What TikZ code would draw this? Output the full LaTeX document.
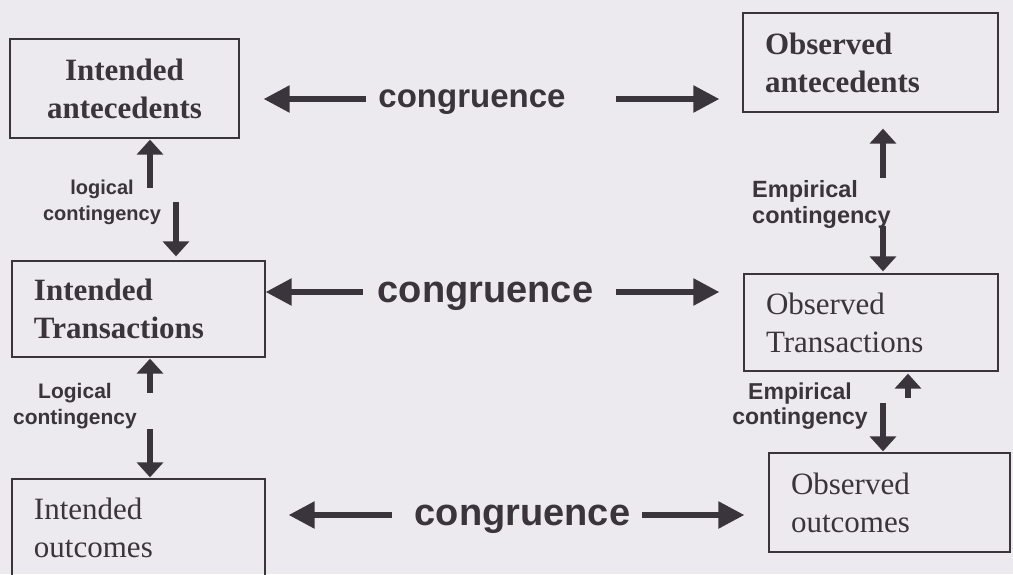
\documentclass[tikz,border=0pt]{standalone}
\usepackage{fontspec}
\setmainfont{Liberation Serif}
\setsansfont{Liberation Sans}
\usetikzlibrary{arrows.meta,calc}
\definecolor{bg}{RGB}{236,234,238}
\definecolor{ink}{RGB}{58,52,60}
\begin{document}
\begin{tikzpicture}[x=1pt,y=-1pt,
  box/.style={draw=ink, line width=1.3pt, text=ink, inner xsep=22pt, inner ysep=0pt,
    font=\fontsize{31}{38}\selectfont},
  bbox/.style={box, font=\fontsize{31}{38}\selectfont\bfseries},
  cong/.style={text=ink, inner sep=0pt, font=\sffamily\bfseries\fontsize{38}{40}\selectfont},
  lab/.style={text=ink, inner sep=0pt, align=center},
  harr/.style={draw=ink, line width=5.5pt, -{Triangle[length=26,width=26]}},
  varr/.style={draw=ink, line width=5.5pt, -{Triangle[length=15,width=26]}}]
\fill[bg] (0,0) rectangle (1013,574);
\useasboundingbox (0,0) rectangle (1013,574);
\begin{scope}
\clip (0,0) rectangle (1013,574);
% boxes
\node[bbox, text width=185, align=center, minimum height=99] (b1) at (124.5,88.5) {Intended\\antecedents};
\node[bbox, text width=211, align=left, minimum height=99] (b2) at (870.5,62.5) {Observed\\antecedents};
\node[bbox, text width=209, align=left, minimum height=96] (b3) at (138.5,309) {Intended\\Transactions};
\node[box, text width=210, align=left, minimum height=97] (b4) at (871,322.5) {Observed\\Transactions};
\node[box, text width=209, align=left, minimum height=98] (b5) at (138.5,528) {Intended\\outcomes};
\node[box, text width=197, align=left, minimum height=99] (b6) at (889.5,502.5) {Observed\\outcomes};
% congruence labels
\node[cong, font=\sffamily\bfseries\fontsize{33}{36}\selectfont] (c1) at (472,102) {congruence};
\node[cong] (c2) at (485.5,296) {congruence};
\node[cong] (c3) at (522.5,519) {congruence};
% congruence arrows
\draw[harr] ($(c1.west)+(-12,-3)$) -- ($(b1.east |- c1.west)+(24,-3)$);
\draw[harr] ($(c1.east)+(50,-3)$) -- ($(b2.west |- c1.east)+(-23,-3)$);
\draw[harr] ($(c2.west)+(-15,-4)$) -- ($(b3.east |- c2.west)+(0,-4)$);
\draw[harr] ($(c2.east)+(23,-4)$) -- ($(b4.west |- c2.east)+(-24,-4)$);
\draw[harr] ($(c3.west)+(-23,-4)$) -- ($(b5.east |- c3.west)+(23,-4)$);
\draw[harr] ($(c3.east)+(12,-4)$) -- ($(b6.west |- c3.east)+(-24,-4)$);
% contingency labels
\node[lab, font=\sffamily\bfseries\fontsize{20}{26}\selectfont] (l1) at (102,202) {logical\\contingency};
\node[lab, font=\sffamily\bfseries\fontsize{21}{26}\selectfont] (l2) at (75,406) {Logical\\contingency};
\node[lab, align=left, anchor=west, font=\sffamily\bfseries\fontsize{23.5}{26}\selectfont] (r1) at (752,204) {Empirical\\contingency};
\node[lab, font=\sffamily\bfseries\fontsize{23}{25}\selectfont] (r2) at (800,406) {Empirical\\contingency};
% contingency arrows
\draw[varr] ($(b1.south)+(25.5,49)$) -- ($(b1.south)+(25.5,1)$);
\draw[varr] ($(b3.north)+(37.5,-58)$) -- ($(b3.north)+(37.5,-4)$);
\draw[varr] ($(b3.south)+(11.5,35)$) -- ($(b3.south)+(11.5,1)$);
\draw[varr] ($(b5.north)+(11.5,-49)$) -- ($(b5.north)+(11.5,-1)$);
\draw[varr] ($(b2.south)+(12.5,65)$) -- ($(b2.south)+(12.5,16)$);
\draw[varr] ($(b4.north)+(12,-47)$) -- ($(b4.north)+(12,-2)$);
\draw[varr] ($(b4.south)+(37,26)$) -- ($(b4.south)+(37,2)$);
\draw[varr] ($(b6.north)+(-6.5,-49)$) -- ($(b6.north)+(-6.5,-1)$);
\end{scope}
\end{tikzpicture}
\end{document}
